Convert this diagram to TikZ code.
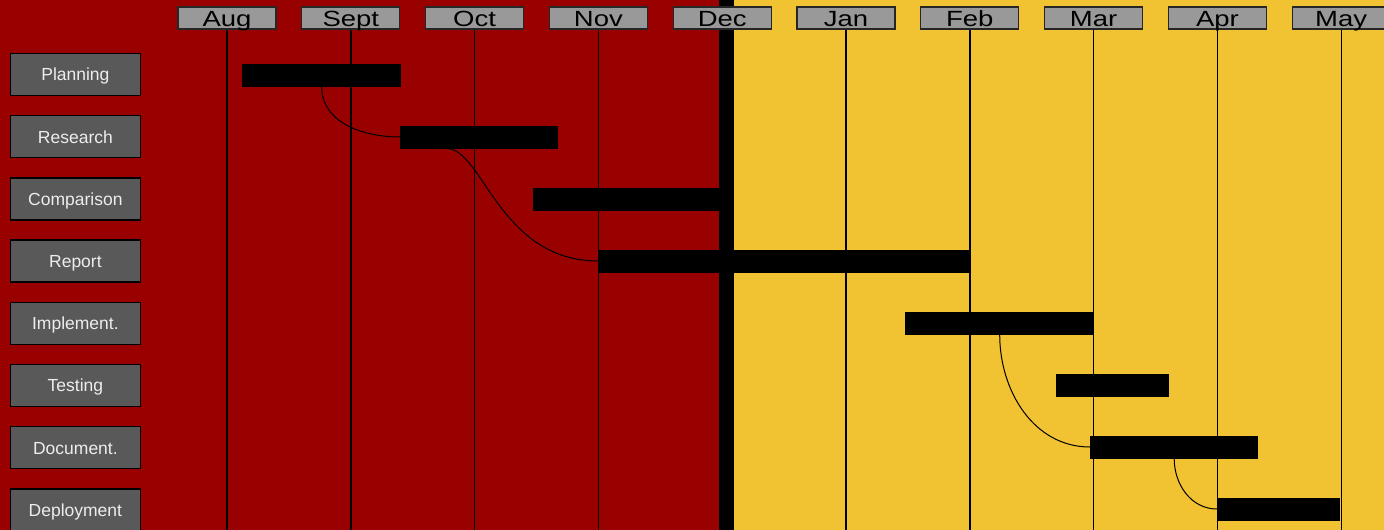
\documentclass[tikz,border=0pt]{standalone}
\usepackage{fontspec}
\setmainfont{Liberation Sans}
\newfontfamily\monthfont[FakeStretch=1.25]{Liberation Sans}
\usepackage{tikz}
\usetikzlibrary{positioning}
\definecolor{bgred}{HTML}{990000}
\definecolor{bgyellow}{HTML}{F1C232}
\definecolor{monthgray}{HTML}{999999}
\definecolor{lblgray}{HTML}{595959}

\begin{document}
\begin{tikzpicture}[
    x=1pt, y=-1pt,
    lbl/.style={draw=black, line width=1.3pt, fill=lblgray, minimum width=130pt, minimum height=42pt, inner sep=0pt,
      text=white!93!black, font=\fontsize{17.5}{17.5}\selectfont, text height=12.7pt, text depth=0pt},
    month/.style={draw=black!85, line width=1.1pt, fill=monthgray, minimum width=98pt, minimum height=22pt, inner sep=0pt,
      font=\monthfont\fontsize{22}{22}\selectfont, text height=17.4pt, text depth=0pt},
    bar/.style={fill=black, minimum height=23pt, inner sep=0pt, anchor=west},
    grid/.style={line width=1.4pt},
    link/.style={line width=1pt},
  ]
    \useasboundingbox (0,0) rectangle (1384,530);

    % ---------- background ----------
    \fill[bgred] (0,0) rectangle (719,530);
    \fill[bgyellow] (734,0) rectangle (1384,530);
    \fill[black] (719,0) rectangle (734,530);
    \coordinate (bottom) at (0,530);

    % ---------- months ----------
    \foreach \m [count=\i from 0] in {Aug,Sept,Oct,Nov,Dec,Jan,Feb,Mar,Apr,May}
      \node[month] (m\i) at ({227+123.8*\i},18) {\m};
    \foreach \i in {0,...,9} \draw[grid] (m\i.south) -- (m\i.south |- bottom);

    % ---------- tasks ----------
    \foreach \t/\name [count=\i from 0] in {plan/Planning, res/Research, comp/Comparison, rep/Report,
        impl/Implement., test/Testing, doc/Document., dep/Deployment}
      \node[lbl] (l-\t) at (75.4,{74.5+62.2*\i}) {\name};

    % ---------- bars ----------
    \foreach \t/\xa/\xb [count=\i from 0] in {plan/242/401, res/400/558, comp/533/719, rep/598/969,
        impl/905/1094, test/1056/1169, doc/1090/1258, dep/1217/1340}
      \node[bar, minimum width={(\xb-\xa)*1pt}] (\t) at (\xa,{75+62*\i}) {};

    % ---------- links ----------
    \draw[link] (plan.south) to[out=-90, in=180] (res.west);
    \draw[link] ([xshift=-32pt]res.south) .. controls +(35,0) and +(-98,0) .. (rep.west);
    \draw[link] (impl.south) to[out=-90, in=180] (doc.west);
    \draw[link] (doc.south) to[out=-90, in=180] (dep.west);
  \end{tikzpicture}
\end{document}
